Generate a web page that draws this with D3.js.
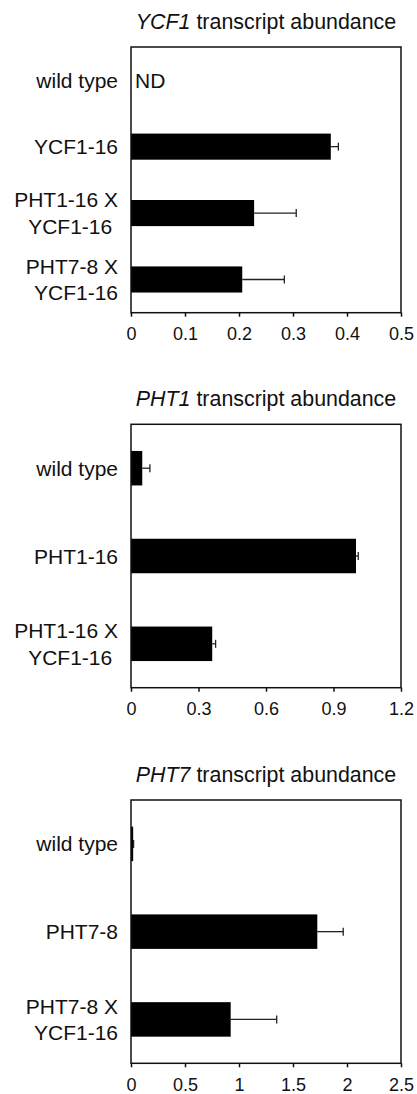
<!DOCTYPE html>
<html>
<head>
<meta charset="utf-8">
<script src="https://cdn.jsdelivr.net/npm/d3@7"></script>
<style>
  body { margin: 0; background: #fff; }
  svg { display: block; }
  text { font-family: "Liberation Sans", Arial, sans-serif; fill: #111; white-space: pre; }
</style>
</head>
<body>
<svg id="chart" width="417" height="1094"></svg>
<script>
// YCF1 transcript abundance
const ycf1Labels = [["wild type"], ["YCF1-16"], ["PHT1-16 X", "YCF1-16 "], ["PHT7-8 X", "YCF1-16"]];
const ycf1Values = [null, 0.37, 0.228, 0.206];
const ycf1Errors = [null, 0.014, 0.078, 0.078];
const ycf1Ticks = [0, 0.1, 0.2, 0.3, 0.4, 0.5];

// PHT1 transcript abundance
const pht1Labels = [["wild type"], ["PHT1-16"], ["PHT1-16 X", "YCF1-16 "]];
const pht1Values = [0.05, 1.0, 0.361];
const pht1Errors = [0.034, 0.01, 0.015];
const pht1Ticks = [0, 0.3, 0.6, 0.9, 1.2];

// PHT7 transcript abundance
const pht7Labels = [["wild type"], ["PHT7-8"], ["PHT7-8 X", "YCF1-16"]];
const pht7Values = [0.02, 1.725, 0.923];
const pht7Errors = [0.004, 0.24, 0.426];
const pht7Ticks = [0, 0.5, 1, 1.5, 2, 2.5];

const panels = [
  { gene: "YCF1", labels: ycf1Labels, values: ycf1Values, errors: ycf1Errors, ticks: ycf1Ticks, top: 47, bottom: 312.7 },
  { gene: "PHT1", labels: pht1Labels, values: pht1Values, errors: pht1Errors, ticks: pht1Ticks, top: 424.3, bottom: 687.7 },
  { gene: "PHT7", labels: pht7Labels, values: pht7Values, errors: pht7Errors, ticks: pht7Ticks, top: 800, bottom: 1063.3 }
];

const left = 131, right = 401, labelX = 118;
const svg = d3.select("#chart");

panels.forEach(p => {
  const g = svg.append("g");
  const rows = p.labels.map((l, i) => ({ lines: l, value: p.values[i], err: p.errors[i], key: i }));

  const x = d3.scaleLinear()
    .domain([0, d3.max(p.ticks)])
    .range([left, right]);

  const y = d3.scaleBand()
    .domain(rows.map(d => d.key))
    .range([p.top, p.bottom])
    .paddingInner(0.607)
    .paddingOuter(0.3035);

  // title
  const title = g.append("text")
    .attr("x", (left + right) / 2)
    .attr("y", p.top - 25)
    .attr("text-anchor", "middle")
    .attr("dominant-baseline", "central")
    .style("font-size", "21.4px");
  title.append("tspan").style("font-style", "italic").text(p.gene);
  title.append("tspan").text(" transcript abundance");

  // bars
  const withVal = rows.filter(d => d.value != null);
  g.selectAll(".bar").data(withVal).join("rect")
    .attr("x", x(0))
    .attr("y", d => y(d.key))
    .attr("width", d => x(d.value) - x(0))
    .attr("height", y.bandwidth())
    .attr("fill", "#000");

  // error bars
  const eb = g.selectAll(".err").data(withVal).join("g")
    .attr("stroke", "#222")
    .attr("stroke-width", 1.3);
  eb.append("line")
    .attr("x1", d => x(d.value))
    .attr("x2", d => x(d.value + d.err))
    .attr("y1", d => y(d.key) + y.bandwidth() / 2)
    .attr("y2", d => y(d.key) + y.bandwidth() / 2);
  eb.append("line")
    .attr("x1", d => x(d.value + d.err))
    .attr("x2", d => x(d.value + d.err))
    .attr("y1", d => y(d.key) + y.bandwidth() / 2 - 4)
    .attr("y2", d => y(d.key) + y.bandwidth() / 2 + 4);

  // ND for missing values
  g.selectAll(".nd").data(rows.filter(d => d.value == null)).join("text")
    .attr("x", left + 4)
    .attr("y", d => y(d.key) + y.bandwidth() / 2)
    .attr("dominant-baseline", "central")
    .style("font-size", "21px")
    .text("ND");

  // category labels
  const lab = g.selectAll(".lab").data(rows).join("text")
    .attr("text-anchor", "end")
    .style("font-size", "21px");
  lab.selectAll("tspan").data(d => d.lines.map((t, i) => ({ t, i, n: d.lines.length, c: y(d.key) + y.bandwidth() / 2 })))
    .join("tspan")
    .attr("x", labelX)
    .attr("y", d => d.c + (d.i - (d.n - 1) / 2) * 26.7)
    .attr("dominant-baseline", "central")
    .text(d => d.t);

  // frame
  g.append("rect")
    .attr("x", left)
    .attr("y", p.top)
    .attr("width", right - left)
    .attr("height", p.bottom - p.top)
    .attr("fill", "none")
    .attr("stroke", "#111")
    .attr("stroke-width", 1.5);

  // x axis
  const ax = g.append("g")
    .attr("transform", `translate(0,${p.bottom})`)
    .call(d3.axisBottom(x).tickValues(p.ticks).tickSize(4).tickSizeOuter(0).tickPadding(10.5).tickFormat(d => String(d)));
  ax.select(".domain").remove();
  ax.selectAll(".tick line").attr("stroke", "#111").attr("stroke-width", 1.5);
  ax.selectAll(".tick text")
    .attr("fill", "#111")
    .style("font-size", "18px")
    .style("font-family", "'Liberation Sans', Arial, sans-serif");
});
</script>
</body>
</html>
